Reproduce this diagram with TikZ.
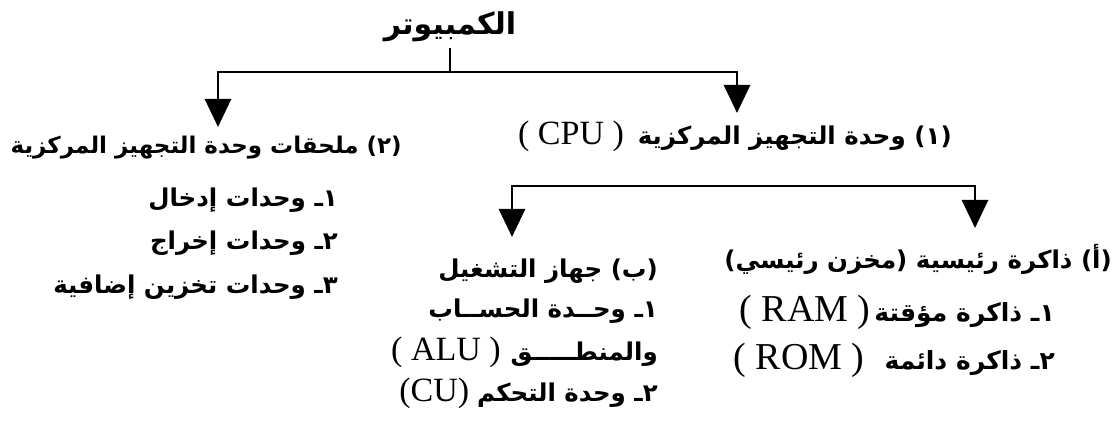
\documentclass[tikz,border=0pt]{standalone}
\usepackage{fontspec}
\setmainfont{Liberation Serif}
\newfontfamily\arabicfont[Script=Arabic]{DejaVu Sans}
\newfontfamily\latfont{Liberation Serif}
\TeXXeTstate=1
\usetikzlibrary{arrows.meta}
\newcommand{\AR}[1]{{\arabicfont\bfseries\beginR #1\endR}}
\newcommand{\LT}[1]{{\latfont\fontsize{34}{40}\selectfont #1}}
\newcommand{\LTb}[1]{{\latfont\fontsize{38}{42}\selectfont #1}}
\begin{document}
\begin{tikzpicture}[x=1pt,y=-1pt,
  conn/.style={line width=2.8pt},
  arr/.style={line width=2.8pt,-{Triangle[length=28pt,width=26pt]}},
  lbl/.style={inner sep=0pt,font=\fontsize{24.5}{28}\selectfont},
  hd/.style={inner sep=0pt,font=\fontsize{23}{27}\selectfont},
  sml/.style={inner sep=0pt,font=\fontsize{25}{28}\selectfont},
  ttl/.style={inner sep=0pt,font=\fontsize{30}{34}\selectfont}]
\useasboundingbox (0,0) rectangle (1119,422);
\fill[white] (0,0) rectangle (1119,422);
% level 0
\node[ttl] (top) at (450,27) {\AR{الكمبيوتر}};
% level 1
\node[hd,anchor=east] (acc) at (402,148) {\AR{(٢) ملحقات وحدة التجهيز المركزية}};
\node[lbl,anchor=east] (cpu) at (952,136) {\LT{( CPU )}\hspace{14pt}\AR{(١) وحدة التجهيز المركزية}};
% accessories list
\node[lbl,anchor=east] (in) at (338,200) {\AR{١ـ وحدات إدخال}};
\node[lbl,anchor=east] (out) at (338,243) {\AR{٢ـ وحدات إخراج}};
\node[lbl,anchor=east] (sto) at (338,287) {\AR{٣ـ وحدات تخزين إضافية}};
% level 2 : processor
\node[lbl,anchor=east] (proc) at (658,271) {\AR{(ب) جهاز التشغيل}};
\node[lbl,anchor=east] (alu1) at (658,311) {\AR{١ـ وحــدة الحســاب}};
\node[lbl,anchor=east] (alu2) at (658,352) {\LT{( ALU )}\hspace{10pt}\AR{والمنطـــــق}};
\node[lbl,anchor=east] (cu) at (658,393) {\LT{(CU)}\hspace{8pt}\AR{٢ـ وحدة التحكم}};
% level 2 : memory
\node[lbl,anchor=east] (mem) at (1112,259) {\AR{(أ) ذاكرة رئيسية (مخزن رئيسي)}};
\node[sml,anchor=east] (ram) at (1055,312) {\LTb{( RAM )}\hspace{4pt}\AR{١ـ ذاكرة مؤقتة}};
\node[sml,anchor=east] (rom) at (1055,360) {\LTb{( ROM )}\hspace{20pt}\AR{٢ـ ذاكرة دائمة}};
% connectors
\coordinate (j0) at (450,72);
\coordinate (t2) at (218,127);
\coordinate (t1) at (737,113);
\draw[conn,shorten <=6pt] (top.south) -- (j0);
\draw[arr] (j0) -| (t2);
\draw[arr] (j0) -| (t1);
\coordinate (j1) at (737,186);
\coordinate (tb) at (512,237);
\coordinate (ta) at (975,228);
\draw[arr] (j1) -| (tb);
\draw[arr] (j1) -| (ta);
\end{tikzpicture}
\end{document}
